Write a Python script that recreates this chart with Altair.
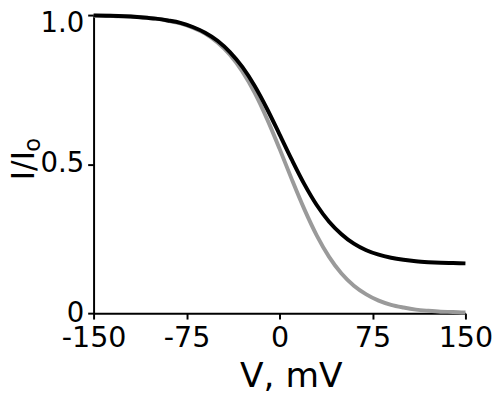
import altair as alt
import pandas as pd

# Membrane potential (mV)
V = [-150, -140, -130, -120, -110, -100, -90, -80, -70, -60, -50, -40, -30, -20, -10,
     0, 10, 20, 30, 40, 50, 60, 70, 80, 90, 100, 110, 120, 130, 140, 150]
# Black curve (I/Io)
black = [0.999, 0.998, 0.997, 0.995, 0.992, 0.988, 0.982, 0.974, 0.960, 0.941, 0.914,
         0.876, 0.826, 0.762, 0.685, 0.600, 0.514, 0.433, 0.363, 0.307, 0.265, 0.233,
         0.211, 0.196, 0.186, 0.179, 0.174, 0.171, 0.169, 0.168, 0.167]
# Gray curve (I/Io)
gray = [0.998, 0.998, 0.996, 0.995, 0.992, 0.988, 0.981, 0.972, 0.958, 0.938, 0.908,
        0.867, 0.811, 0.739, 0.651, 0.552, 0.448, 0.349, 0.261, 0.189, 0.133, 0.092,
        0.063, 0.042, 0.028, 0.019, 0.012, 0.008, 0.005, 0.004, 0.002]
x_ticks = [-150, -75, 0, 75, 150]
y_ticks = [0, 0.5, 1.0]

df = pd.DataFrame({"V": V, "black": black, "gray": gray})
one = pd.DataFrame({"k": [0]})

FONT = "DejaVu Sans"

x_enc = alt.X("V:Q", scale=alt.Scale(domain=[-150, 150], nice=False, zero=False),
              axis=alt.Axis(values=x_ticks, title=None, labelFontSize=29, labelPadding=5,
                            labelFlush=False, labelOverlap=False,
                            labelExpr="toString(datum.value)"))
y_axis = alt.Axis(values=y_ticks, title=None, labelFontSize=28, labelPadding=4,
                  labelOffset={"condition": {"test": "datum.value == 1", "value": 9}, "value": 0},
                  labelExpr="datum.value == 0 ? '0' : format(datum.value, '.1f')")
y_scale = alt.Scale(domain=[0, 1], nice=False)

gray_line = alt.Chart(df).mark_line(color="#9a9a9a", strokeWidth=4, interpolate="monotone").encode(
    x=x_enc, y=alt.Y("gray:Q", scale=y_scale, axis=y_axis))
black_line = alt.Chart(df).mark_line(color="#000000", strokeWidth=4, interpolate="monotone").encode(
    x=x_enc, y=alt.Y("black:Q", scale=y_scale, axis=y_axis))

ytitle = alt.Chart(one).mark_text(text="I/I", angle=270, fontSize=32, font=FONT, align="center",
                                  baseline="alphabetic", color="black").encode(
    x=alt.value(-61), y=alt.value(153))
ysub = alt.Chart(one).mark_text(text="o", angle=270, fontSize=23, font=FONT, align="center",
                                baseline="alphabetic", color="black").encode(
    x=alt.value(-54), y=alt.value(132))
xtitle = alt.Chart(one).mark_text(text="V, mV", fontSize=35, font=FONT, align="center",
                                  baseline="alphabetic", color="black").encode(
    x=alt.value(201), y=alt.value(378))

chart = alt.layer(gray_line, black_line, ytitle, ysub, xtitle).properties(
    width=378, height=303,
    autosize=alt.AutoSizeParams(type="none"),
    padding={"left": 87, "top": 4, "right": 27, "bottom": 81},
).configure_view(stroke=None).configure_axis(
    grid=False, domainColor="black", domainWidth=2, tickColor="black", tickWidth=2,
    tickSize=6, labelFont=FONT, labelColor="black",
)

chart.save("out.html", embed_options={"renderer": "svg", "actions": False})
